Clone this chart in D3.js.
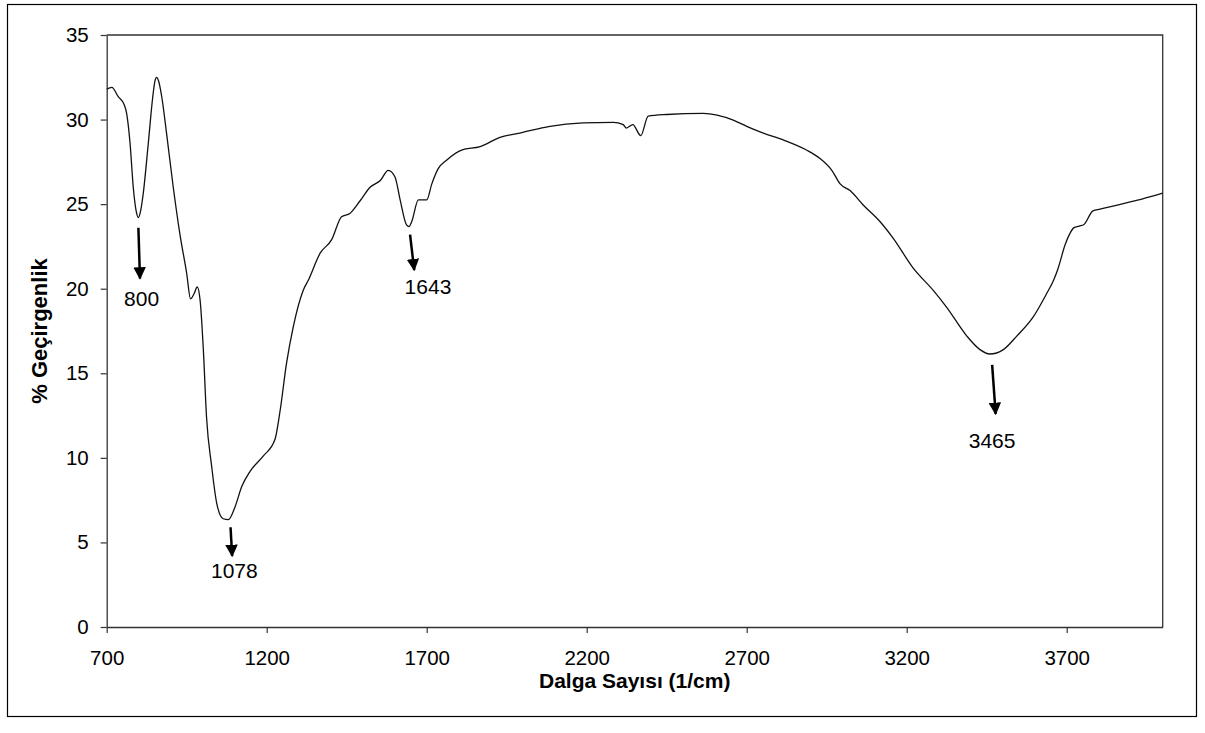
<!DOCTYPE html>
<html>
<head>
<meta charset="utf-8">
<script src="https://cdn.jsdelivr.net/npm/d3@7"></script>
<style>
  body { margin: 0; background: #fff; }
  text { font-family: Arial, "Liberation Sans", sans-serif; }
</style>
</head>
<body>
<svg id="chart"></svg>
<script>
// IR spectrum
var wavenumber = [700, 716, 736, 754, 762, 773, 783, 792, 799, 806, 814, 830, 844, 851, 856, 862, 872, 887, 908, 929,
  950, 962, 973, 983, 992, 1002, 1012, 1028, 1044, 1064, 1080, 1101, 1122, 1148, 1189, 1226, 1242, 1262, 1283, 1314,
  1330, 1367, 1403, 1434, 1460, 1492, 1523, 1555, 1580, 1601, 1617, 1637, 1645, 1653, 1674, 1700, 1716, 1736, 1762, 1809,
  1867, 1929, 1991, 2085, 2189, 2283, 2314, 2324, 2344, 2369, 2392, 2450, 2564, 2658, 2700, 2752, 2814, 2887, 2929, 2966,
  2992, 3023, 3064, 3117, 3158, 3221, 3283, 3325, 3388, 3429, 3460, 3502, 3544, 3596, 3637, 3659, 3673, 3695, 3711, 3722,
  3739, 3754, 3782, 3804, 3848, 3880, 3935, 4000];
var transmittance = [31.8, 31.9, 31.35, 30.9, 30.4, 28.6, 26.0, 24.6, 24.2, 24.6, 25.6, 28.6, 31.35, 32.3, 32.5, 32.3, 31.35, 29.2, 26.0, 23.2,
  20.9, 19.4, 19.7, 20.1, 19.3, 16.4, 12.4, 9.5, 7.3, 6.4, 6.35, 7.1, 8.3, 9.2, 10.1, 11.1, 12.8, 15.6, 17.75, 19.9,
  20.5, 22.1, 22.9, 24.26, 24.45, 25.2, 26.0, 26.4, 27.0, 26.6, 25.25, 23.77, 23.67, 23.96, 25.25, 25.25, 26.2, 27.1, 27.6, 28.2,
  28.4, 28.95, 29.2, 29.6, 29.8, 29.84, 29.7, 29.5, 29.7, 29.05, 30.2, 30.3, 30.37, 29.97, 29.6, 29.2, 28.8, 28.2, 27.7, 27.0,
  26.2, 25.8, 24.95, 23.96, 22.98, 21.2, 19.9, 18.9, 17.2, 16.4, 16.14, 16.4, 17.2, 18.35, 19.7, 20.5, 21.2, 22.6, 23.3, 23.6,
  23.7, 23.8, 24.6, 24.7, 24.9, 25.05, 25.3, 25.65];

var xTicks = [700, 1200, 1700, 2200, 2700, 3200, 3700];
var yTicks = [0, 5, 10, 15, 20, 25, 30, 35];

// peak labels: arrow from (x1,y1) to (x2,y2), text at (lx,ly)
var peakLabels = ["800", "1078", "1643", "3465"];
var arrowX1 = [799, 1087, 1648, 3467];
var arrowY1 = [23.6, 5.9, 23.2, 15.5];
var arrowX2 = [804, 1092, 1661, 3478];
var arrowY2 = [20.6, 4.2, 21.1, 12.6];
var labelX = [809, 1099, 1704, 3467];
var labelY = [19.0, 2.9, 19.7, 10.6];

var width = 1205, height = 733;
var plotLeft = 106.7, plotRight = 1162.7, plotTop = 35, plotBottom = 627;

var svg = d3.select("#chart").attr("width", width).attr("height", height);

// chart area border
svg.append("rect")
  .attr("x", 7.5).attr("y", 4.5)
  .attr("width", 1189).attr("height", 712)
  .attr("fill", "none").attr("stroke", "#000").attr("stroke-width", 1.2);

var x = d3.scaleLinear().domain([700, 4000]).range([plotLeft, plotRight]);
var y = d3.scaleLinear().domain([0, 35]).range([plotBottom, plotTop]);

// plot frame (top/right)
svg.append("path")
  .attr("d", "M" + plotLeft + "," + plotTop + "H" + plotRight + "V" + plotBottom)
  .attr("fill", "none").attr("stroke", "#333").attr("stroke-width", 1.3);

var xAxis = svg.append("g")
  .attr("transform", "translate(0," + plotBottom + ")")
  .call(d3.axisBottom(x).tickValues(xTicks).tickFormat(d3.format("d"))
    .tickSize(6).tickPadding(17).tickSizeOuter(0));
var yAxis = svg.append("g")
  .attr("transform", "translate(" + plotLeft + ",0)")
  .call(d3.axisLeft(y).tickValues(yTicks).tickFormat(d3.format("d"))
    .tickSize(6).tickPadding(12).tickSizeOuter(0));

[xAxis, yAxis].forEach(function (g) {
  g.select(".domain").attr("stroke", "#333").attr("stroke-width", 1.3);
  g.selectAll(".tick line").attr("stroke", "#333").attr("stroke-width", 1.2);
  g.selectAll(".tick text")
    .attr("fill", "#000")
    .style("font-family", "Arial, 'Liberation Sans', sans-serif")
    .style("font-size", "20.5px");
});

// spectrum line
var points = wavenumber.map(function (w, i) { return [w, transmittance[i]]; });
var line = d3.line()
  .x(function (d) { return x(d[0]); })
  .y(function (d) { return y(d[1]); })
  .curve(d3.curveMonotoneX);

svg.append("path")
  .datum(points)
  .attr("d", line)
  .attr("fill", "none")
  .attr("stroke", "#111")
  .attr("stroke-width", 1.3);

// arrows
svg.append("defs").append("marker")
  .attr("id", "head")
  .attr("viewBox", "0 0 10 10")
  .attr("refX", 9).attr("refY", 5)
  .attr("markerWidth", 5).attr("markerHeight", 5)
  .attr("markerUnits", "strokeWidth")
  .attr("orient", "auto")
  .append("path")
  .attr("d", "M0,0L10,5L0,10Z")
  .attr("fill", "#000");

peakLabels.forEach(function (lab, i) {
  svg.append("line")
    .attr("x1", x(arrowX1[i])).attr("y1", y(arrowY1[i]))
    .attr("x2", x(arrowX2[i])).attr("y2", y(arrowY2[i]))
    .attr("stroke", "#000").attr("stroke-width", 2.5)
    .attr("marker-end", "url(#head)");
  svg.append("text")
    .attr("x", x(labelX[i])).attr("y", y(labelY[i]))
    .attr("text-anchor", "middle")
    .style("font-size", "21px")
    .text(lab);
});

// axis titles
svg.append("text")
  .attr("x", (plotLeft + plotRight) / 2).attr("y", 688)
  .attr("text-anchor", "middle")
  .style("font-size", "21px").style("font-weight", "bold")
  .text("Dalga Sayısı (1/cm)");

svg.append("text")
  .attr("transform", "translate(47," + (plotTop + plotBottom) / 2 + ") rotate(-90)")
  .attr("text-anchor", "middle")
  .style("font-size", "22px").style("font-weight", "bold")
  .text("% Geçirgenlik");
</script>
</body>
</html>
